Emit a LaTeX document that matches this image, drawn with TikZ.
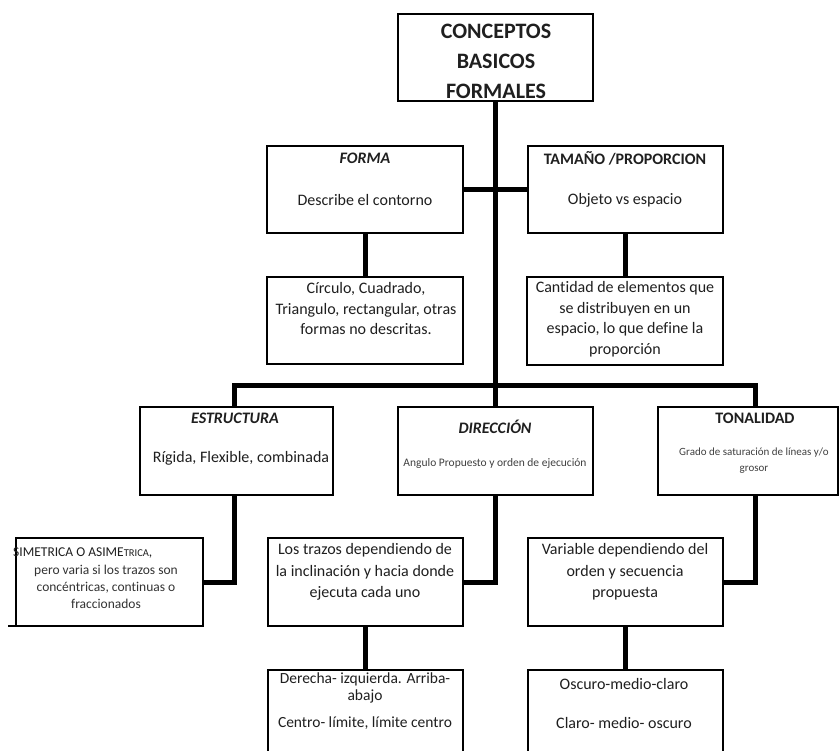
\documentclass[tikz,border=0pt]{standalone}
\usepackage{fontspec}
\setmainfont{Carlito}[Ligatures=NoCommon]
\begin{document}
\begin{tikzpicture}[x=1pt,y=-1pt,
  box/.style={draw, line width=1.2pt, anchor=north west, inner sep=0pt, outer sep=0pt},
  conn/.style={line width=5pt},
  txt/.style={font=\fontsize{16}{21}\selectfont, align=center, inner sep=0pt, text=black!88},
  ttl/.style={font=\bfseries\fontsize{16}{21}\selectfont, inner sep=0pt, text=black!88},
  ttli/.style={font=\bfseries\itshape\fontsize{16}{21}\selectfont, inner sep=0pt, text=black!88},
  smalltxt/.style={font=\fontsize{11.5}{16}\selectfont, align=center, inner sep=0pt, text=black!75},
  midtxt/.style={font=\fontsize{13.5}{16.7}\selectfont, align=center, inner sep=0pt, text=black!80}]
\clip (0,0) rectangle (840,751);
\fill[white] (0,0) rectangle (840,751);

% boxes
\node[box, minimum width=195, minimum height=87] (top) at (398,14) {};
\node[box, minimum width=196, minimum height=87] (forma) at (267,146) {};
\node[box, minimum width=195, minimum height=87] (tam) at (528,146) {};
\node[box, minimum width=196, minimum height=87] (circ) at (267,277) {};
\node[box, minimum width=196, minimum height=88] (cant) at (527,277) {};
\node[box, minimum width=193, minimum height=88] (estr) at (140,407) {};
\node[box, minimum width=195, minimum height=88] (dir) at (398,407) {};
\node[box, minimum width=180, minimum height=88] (ton) at (658,407) {};
\node[box, minimum width=187, minimum height=88] (sim) at (16,538) {};
\node[box, minimum width=195, minimum height=88] (traz) at (268,538) {};
\node[box, minimum width=195, minimum height=88] (var) at (528,538) {};
\node[box, minimum width=195, minimum height=90] (der) at (268,670) {};
\node[box, minimum width=195, minimum height=90] (osc) at (528,670) {};
\draw[line width=1.2pt] (sim.south west) -- ++(-8,0);

% connectors
\draw[conn] (top.south) -- (top.south |- dir.north);
\draw[conn] (forma.east) -- (tam.west);
\draw[conn] (forma.south) -- (circ.north);
\draw[conn] (tam.south) -- (tam.south |- cant.north);
\draw[conn] ([xshift=-2.5pt]estr.north) -- ++(0,-22) -| ([xshift=7pt]ton.north);
\draw[conn] ([xshift=-2.5pt]estr.south) |- (sim.east);
\draw[conn] (dir.south) |- (traz.east);
\draw[conn] ([xshift=7pt]ton.south) |- (var.east);
\draw[conn] (traz.south) -- (der.north);
\draw[conn] (var.south) -- (var.south |- osc.north);

% texts
\node[font=\bfseries\fontsize{22}{30}\selectfont, align=center, inner sep=0pt, text=black!88] (ttop) at (496,61) {CONCEPTOS\\BASICOS\\FORMALES};
\node[ttli] (tforma) at (365,158) {FORMA};
\node[txt] (dforma) at (365,200) {Describe el contorno};
\node[ttl] (ttam) at (625,158) {TAMAÑO /PROPORCION};
\node[txt] (dtam) at (625,200) {Objeto vs espacio};
\node[txt, font=\fontsize{16}{20.5}\selectfont] (dcirc) at (366,309) {Círculo, Cuadrado,\\Triangulo, rectangular, otras\\formas no descritas.};
\node[txt, font=\fontsize{16}{20.5}\selectfont] (dcant) at (625,319) {Cantidad de elementos que\\se distribuyen en un\\espacio, lo que define la\\proporción};
\node[ttli] (testr) at (235,418) {ESTRUCTURA};
\node[txt] (destr) at (241,458) {Rígida, Flexible, combinada};
\node[ttli] (tdir) at (495,427) {DIRECCIÓN};
\node[smalltxt] (ddir) at (495,463) {Angulo Propuesto y orden de ejecución};
\node[ttl] (tton) at (755,418) {TONALIDAD};
\node[smalltxt, font=\fontsize{11}{16}\selectfont] (dton) at (754,461) {Grado de saturación de líneas y/o\\grosor};
\node[midtxt, anchor=west, text=black!88] (tsim) at (13,553) {SIMETRICA O ASIME{\fontsize{10.5}{12}\selectfont TRICA},};
\node[midtxt] (dsim) at (106,587) {pero varia si los trazos son\\concéntricas, continuas o\\fraccionados};
\node[txt, font=\fontsize{16}{21.5}\selectfont] (dtraz) at (365,572) {Los trazos dependiendo de\\la inclinación y hacia donde\\ejecuta cada uno};
\node[txt, font=\fontsize{16}{21.5}\selectfont] (dvar) at (625,572) {Variable dependiendo del\\orden y secuencia\\propuesta};
\node[txt, font=\fontsize{15.5}{17}\selectfont] (dder) at (365,688) {Derecha- izquierda. Arriba-\\abajo};
\node[txt, font=\fontsize{15.5}{20}\selectfont] (dder2) at (365,723) {Centro- límite, límite centro};
\node[txt] (dosc) at (624,684) {Oscuro-medio-claro};
\node[txt] (dosc2) at (624,723) {Claro- medio- oscuro};
\end{tikzpicture}
\end{document}
